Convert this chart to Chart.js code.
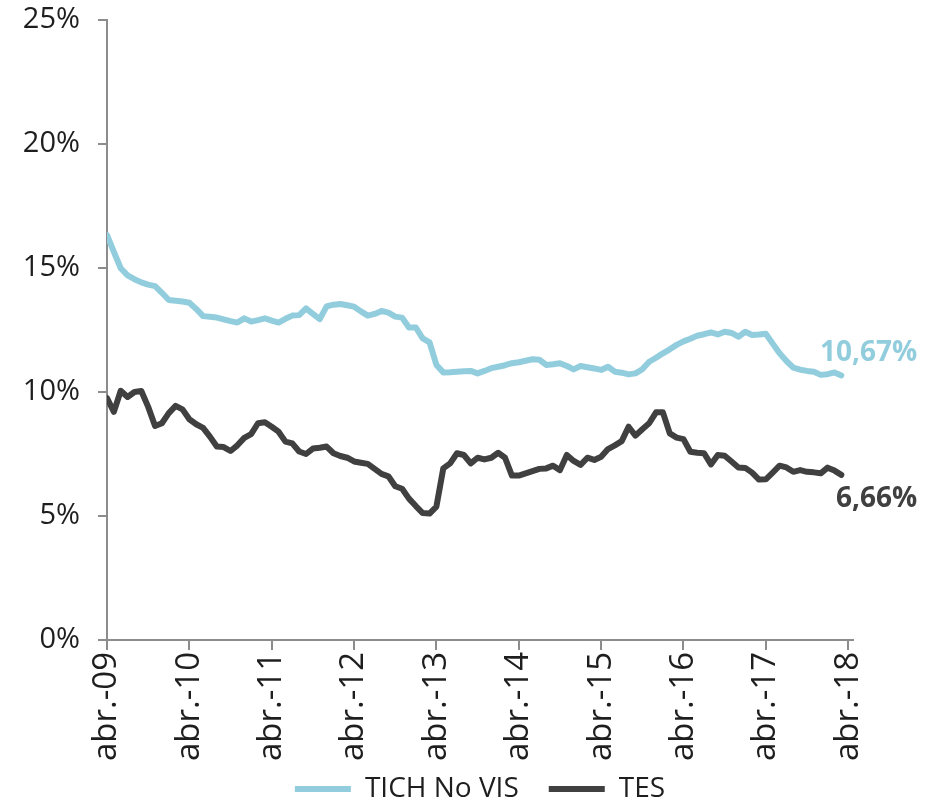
<!DOCTYPE html>
<html>
<head>
<meta charset="utf-8">
<script src="https://cdn.jsdelivr.net/npm/chart.js@4.4.1/dist/chart.umd.min.js"></script>
<style>
  html, body { margin: 0; padding: 0; background: #fff; }
</style>
</head>
<body>
<canvas id="chart" width="929" height="803"></canvas>
<script>
// months from abr.-09 (index 0) to abr.-18 (index 108)
const MONTHS = ['ene.', 'feb.', 'mar.', 'abr.', 'may.', 'jun.', 'jul.', 'ago.', 'sep.', 'oct.', 'nov.', 'dic.'];
const categories = [];
for (let i = 0; i <= 108; i++) {
    const m = (3 + i) % 12;
    const y = 9 + Math.floor((3 + i) / 12);
    categories.push(MONTHS[m] + '-' + String(y).padStart(2, '0'));
}

const tickLabels = ['abr.-09', 'abr.-10', 'abr.-11', 'abr.-12', 'abr.-13', 'abr.-14', 'abr.-15', 'abr.-16', 'abr.-17', 'abr.-18'];
const yTicks = [0, 5, 10, 15, 20, 25];

const seriesNames = ['TICH No VIS', 'TES'];

const tichNoVis = [
    16.33, 15.65, 14.99, 14.70, 14.55, 14.42, 14.33, 14.27, 14.00, 13.71,
    13.68, 13.65, 13.60, 13.35, 13.06, 13.03, 13.00, 12.93, 12.86, 12.80,
    12.97, 12.84, 12.90, 12.97, 12.88, 12.80, 12.95, 13.08, 13.10, 13.37,
    13.15, 12.94, 13.45, 13.52, 13.55, 13.50, 13.44, 13.25, 13.08, 13.15,
    13.27, 13.20, 13.04, 13.00, 12.60, 12.60, 12.16, 12.00, 11.09, 10.79,
    10.80, 10.82, 10.84, 10.85, 10.75, 10.85, 10.96, 11.02, 11.08, 11.16,
    11.20, 11.26, 11.32, 11.30, 11.09, 11.12, 11.16, 11.05, 10.91, 11.05,
    11.00, 10.95, 10.89, 11.02, 10.82, 10.78, 10.71, 10.75, 10.92, 11.22,
    11.38, 11.56, 11.72, 11.90, 12.04, 12.15, 12.27, 12.33, 12.40, 12.32,
    12.43, 12.38, 12.23, 12.43, 12.30, 12.32, 12.35, 11.95, 11.56, 11.25,
    10.98, 10.90, 10.85, 10.82, 10.69, 10.72, 10.79, 10.67
];

const tes = [
    9.75, 9.20, 10.05, 9.80, 10.00, 10.04, 9.40, 8.63, 8.74, 9.15,
    9.44, 9.30, 8.90, 8.70, 8.55, 8.20, 7.80, 7.78, 7.62, 7.85,
    8.15, 8.30, 8.74, 8.78, 8.60, 8.40, 8.00, 7.93, 7.60, 7.50,
    7.72, 7.75, 7.80, 7.53, 7.42, 7.35, 7.20, 7.15, 7.10, 6.90,
    6.70, 6.60, 6.20, 6.10, 5.70, 5.40, 5.12, 5.10, 5.38, 6.92,
    7.12, 7.53, 7.46, 7.12, 7.35, 7.28, 7.35, 7.55, 7.35, 6.63,
    6.63, 6.72, 6.81, 6.90, 6.92, 7.03, 6.85, 7.46, 7.22, 7.06,
    7.35, 7.26, 7.39, 7.70, 7.85, 8.02, 8.60, 8.24, 8.50, 8.74,
    9.18, 9.18, 8.33, 8.16, 8.10, 7.59, 7.55, 7.53, 7.08, 7.46,
    7.43, 7.20, 6.96, 6.94, 6.75, 6.47, 6.48, 6.75, 7.03, 6.96,
    6.78, 6.85, 6.78, 6.76, 6.72, 6.95, 6.83, 6.66
];

const FONT = '"Open Sans", "DejaVu Sans", sans-serif';
const AXIS = '#8c8c8c';
const TEXT = '#1e1e1e';
const COLORS = ['#92cddd', '#404040'];
const LABEL_SHIFT = [-22, 24];

const toPoints = arr => arr.map((v, i) => ({ x: i, y: v }));
const tickMonths = tickLabels.map(t => categories.indexOf(t));
const fmt = v => v.toFixed(2).replace('.', ',') + '%';

// last value written next to the end of each line
const endLabels = {
    id: 'endLabels',
    afterDatasetsDraw(chart) {
        const ctx = chart.ctx;
        chart.data.datasets.forEach((ds, i) => {
            const meta = chart.getDatasetMeta(i);
            const pt = meta.data[meta.data.length - 1];
            const last = ds.data[ds.data.length - 1].y;
            ctx.save();
            ctx.font = 'bold 28px ' + FONT;
            ctx.fillStyle = ds.borderColor;
            ctx.textAlign = 'right';
            ctx.textBaseline = 'middle';
            ctx.fillText(fmt(last), pt.x + 76, pt.y + LABEL_SHIFT[i]);
            ctx.restore();
        });
    }
};

// small legend box in the layout, then drawn a bit higher so it sits under the tick labels
const legendPlace = {
    id: 'legendPlace',
    afterInit(chart) {
        const lg = chart.legend;
        if (!lg) return;
        const fit = lg.fit.bind(lg);
        lg.fit = function () {
            fit();
            this.height = 38;
        };
    },
    afterLayout(chart) {
        const lg = chart.legend;
        if (!lg) return;
        lg.top = lg.bottom - 58;
        lg.height = 58;
    }
};

new Chart(document.getElementById('chart').getContext('2d'), {
    type: 'line',
    data: {
        datasets: [
            {
                label: seriesNames[0],
                data: toPoints(tichNoVis),
                borderColor: COLORS[0],
                backgroundColor: COLORS[0],
                borderWidth: 6,
                pointRadius: 0,
                tension: 0,
                borderJoinStyle: 'round',
                borderCapStyle: 'round'
            },
            {
                label: seriesNames[1],
                data: toPoints(tes),
                borderColor: COLORS[1],
                backgroundColor: COLORS[1],
                borderWidth: 6,
                pointRadius: 0,
                tension: 0,
                borderJoinStyle: 'round',
                borderCapStyle: 'round'
            }
        ]
    },
    options: {
        responsive: false,
        animation: false,
        layout: { padding: { top: 20, right: 76, left: 0, bottom: 0 } },
        plugins: {
            tooltip: { enabled: false },
            legend: {
                position: 'bottom',
                fullSize: false,
                labels: {
                    usePointStyle: true,
                    pointStyle: 'line',
                    pointStyleWidth: 56,
                    padding: 30,
                    color: TEXT,
                    font: { family: FONT, size: 28 }
                }
            }
        },
        scales: {
            x: {
                type: 'linear',
                min: 0,
                max: 108.7,
                afterBuildTicks: s => { s.ticks = tickMonths.map(v => ({ value: v })); },
                afterFit: s => { s.height = 125; },
                ticks: {
                    autoSkip: false,
                    minRotation: 90,
                    maxRotation: 90,
                    padding: 2,
                    color: TEXT,
                    font: { family: FONT, size: 33 },
                    callback: v => categories[v]
                },
                grid: { drawOnChartArea: false, tickLength: 10, color: AXIS, lineWidth: 2 },
                border: { color: AXIS, width: 2 }
            },
            y: {
                min: 0,
                max: 25,
                afterBuildTicks: s => { s.ticks = yTicks.map(v => ({ value: v })); },
                afterFit: s => { s.width = 107; s.paddingTop = 0; },
                ticks: {
                    padding: 18,
                    color: TEXT,
                    font: { family: FONT, size: 29 },
                    callback: v => v + '%'
                },
                grid: { drawOnChartArea: false, tickLength: 9, color: AXIS, lineWidth: 2 },
                border: { color: AXIS, width: 2 }
            }
        }
    },
    plugins: [endLabels, legendPlace]
});
</script>
</body>
</html>
